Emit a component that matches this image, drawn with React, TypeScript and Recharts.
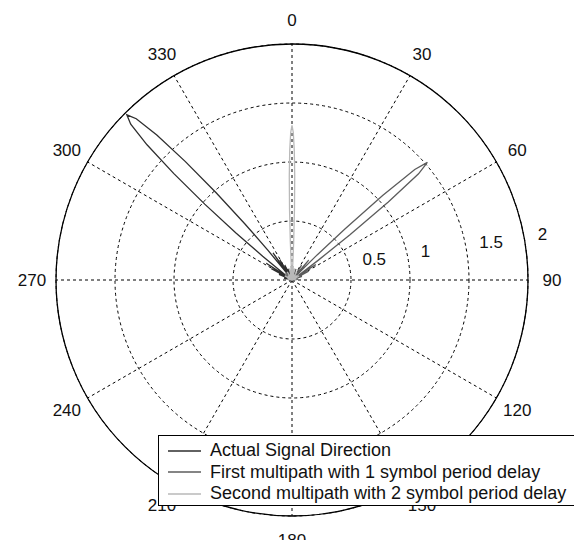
import React from "react";
import { Legend, PolarAngleAxis, PolarGrid, PolarRadiusAxis, Radar, RadarChart } from "recharts";

// angles in degrees (compass style, 0 at top, clockwise); values are linear magnitude
const actualAngles = [270, 278, 284, 289, 293, 296, 299, 301, 303, 305, 307, 308, 309, 310, 311, 312, 313, 314, 315, 316, 317, 318, 319, 320, 321, 322, 323, 325, 327, 329, 331, 334, 337, 340, 344, 349, 354, 0, 8, 16, 25, 35, 45, 55, 65, 78, 90];
const actualValues = [0, 0.03, 0.07, 0.04, 0.12, 0.05, 0.2, 0.07, 0.26, 0.06, 0.08, 0.12, 0.32, 0.62, 0.98, 1.35, 1.68, 1.9, 1.98, 1.9, 1.68, 1.35, 0.98, 0.62, 0.32, 0.12, 0.08, 0.28, 0.06, 0.2, 0.05, 0.14, 0.04, 0.1, 0.04, 0.08, 0.03, 0.07, 0.02, 0.06, 0.02, 0.05, 0.02, 0.04, 0.02, 0.01, 0];

const firstAngles = [270, 280, 290, 298, 305, 312, 318, 325, 332, 340, 348, 356, 4, 12, 20, 27, 33, 37, 40, 42, 43, 44, 45, 46, 47, 48, 49, 50, 51, 52, 53, 54, 55, 57, 59, 62, 65, 70, 76, 83, 90];
const firstValues = [0, 0.02, 0.04, 0.03, 0.07, 0.04, 0.08, 0.03, 0.07, 0.02, 0.05, 0.03, 0.07, 0.04, 0.1, 0.05, 0.15, 0.05, 0.22, 0.06, 0.06, 0.08, 0.28, 0.62, 1.05, 1.4, 1.52, 1.4, 1.05, 0.62, 0.28, 0.08, 0.06, 0.24, 0.05, 0.16, 0.04, 0.09, 0.03, 0.05, 0];

const secondAngles = [270, 285, 300, 315, 330, 340, 347, 352, 355, 356, 357, 357.5, 358, 358.5, 359, 359.5, 0, 0.5, 1, 1.5, 2, 2.5, 3, 4, 5, 8, 13, 20, 30, 45, 60, 75, 90];
const secondValues = [0, 0.04, 0.07, 0.05, 0.08, 0.05, 0.1, 0.06, 0.12, 0.05, 0.1, 0.32, 0.6, 0.88, 1.1, 1.25, 1.31, 1.25, 1.1, 0.88, 0.6, 0.32, 0.1, 0.05, 0.12, 0.06, 0.1, 0.05, 0.08, 0.05, 0.07, 0.04, 0];

const angleTicks = [0, 30, 60, 90, 120, 150, 180, 210, 240, 270, 300, 330];
const radiusTicks = [0.5, 1, 1.5, 2];

const seriesNames = {
  actual: "Actual Signal Direction",
  first: "First multipath with 1 symbol period delay",
  second: "Second multipath with 2 symbol period delay",
};

const FONT = "'Liberation Sans', Arial, Helvetica, sans-serif";

const toSigned = (a: number) => (a > 180 ? a - 360 : a);

const lookup = (angles: number[], values: number[], a: number) => {
  const i = angles.indexOf(a);
  return i >= 0 ? values[i] : undefined;
};

const allAngles = Array.from(new Set([...actualAngles, ...firstAngles, ...secondAngles])).sort(
  (a, b) => toSigned(a) - toSigned(b)
);

const data = allAngles.map((angle) => ({
  angle,
  actual: lookup(actualAngles, actualValues, angle),
  first: lookup(firstAngles, firstValues, angle),
  second: lookup(secondAngles, secondValues, angle),
}));

function AngleTick(props: any) {
  const { x, y, payload } = props;
  return (
    <text x={x} y={y} textAnchor="middle" dominantBaseline="central" fontSize={17} fontFamily={FONT} fill="#111">
      {payload.value}
    </text>
  );
}

function RadiusTick(props: any) {
  const { x, y, payload } = props;
  return (
    <text x={x + 12} y={y - 7} textAnchor="start" fontSize={17} fontFamily={FONT} fill="#111">
      {payload.value}
    </text>
  );
}

function LegendBox(props: any) {
  const items = props.payload || [];
  return (
    <div
      style={{
        border: "1px solid #000",
        background: "#fff",
        padding: "4px 0 0 8px",
        fontFamily: FONT,
        fontSize: 18,
        color: "#111",
        boxSizing: "border-box",
      }}
    >
      {items.map((entry: any) => (
        <div key={entry.value} style={{ display: "flex", alignItems: "center", height: 21.5, whiteSpace: "nowrap" }}>
          <svg width={43} height={10} style={{ flex: "none" }}>
            <line x1={1} y1={5} x2={34} y2={5} stroke={entry.color} strokeWidth={1.5} />
          </svg>
          <span>{entry.value}</span>
        </div>
      ))}
    </div>
  );
}

export default function App() {
  return (
    <div style={{ margin: -8, width: 582, height: 548, background: "#fff", overflow: "hidden" }}>
      <RadarChart
        width={582}
        height={548}
        data={data}
        cx={292}
        cy={280}
        outerRadius={236}
        margin={{ top: 0, right: 0, bottom: 0, left: 0 }}
      >
        <PolarGrid gridType="circle" stroke="#000" strokeDasharray="3 3" strokeWidth={1} />
        <PolarAngleAxis
          dataKey="angle"
          type="number"
          domain={[0, 360]}
          ticks={angleTicks}
          tickCount={13}
          axisLineType="circle"
          axisLine={{ stroke: "#000", strokeWidth: 1.3 }}
          tickLine={false}
          tickSize={24}
          tick={<AngleTick />}
        />
        <PolarRadiusAxis
          angle={8}
          type="number"
          domain={[0, 2]}
          ticks={radiusTicks}
          axisLine={false}
          tick={<RadiusTick />}
        />
        <Radar
          name={seriesNames.actual}
          dataKey="actual"
          stroke="#2e2e2e"
          strokeWidth={1.3}
          fill="none"
          connectNulls
          isAnimationActive={false}
        />
        <Radar
          name={seriesNames.first}
          dataKey="first"
          stroke="#5c5c5c"
          strokeWidth={1.3}
          fill="none"
          connectNulls
          isAnimationActive={false}
        />
        <Radar
          name={seriesNames.second}
          dataKey="second"
          stroke="#b9b9b9"
          strokeWidth={1.3}
          fill="none"
          connectNulls
          isAnimationActive={false}
        />
        <Legend
          content={<LegendBox />}
          wrapperStyle={{ position: "absolute", left: 158, top: 435, width: 430, height: 72 }}
        />
      </RadarChart>
    </div>
  );
}
